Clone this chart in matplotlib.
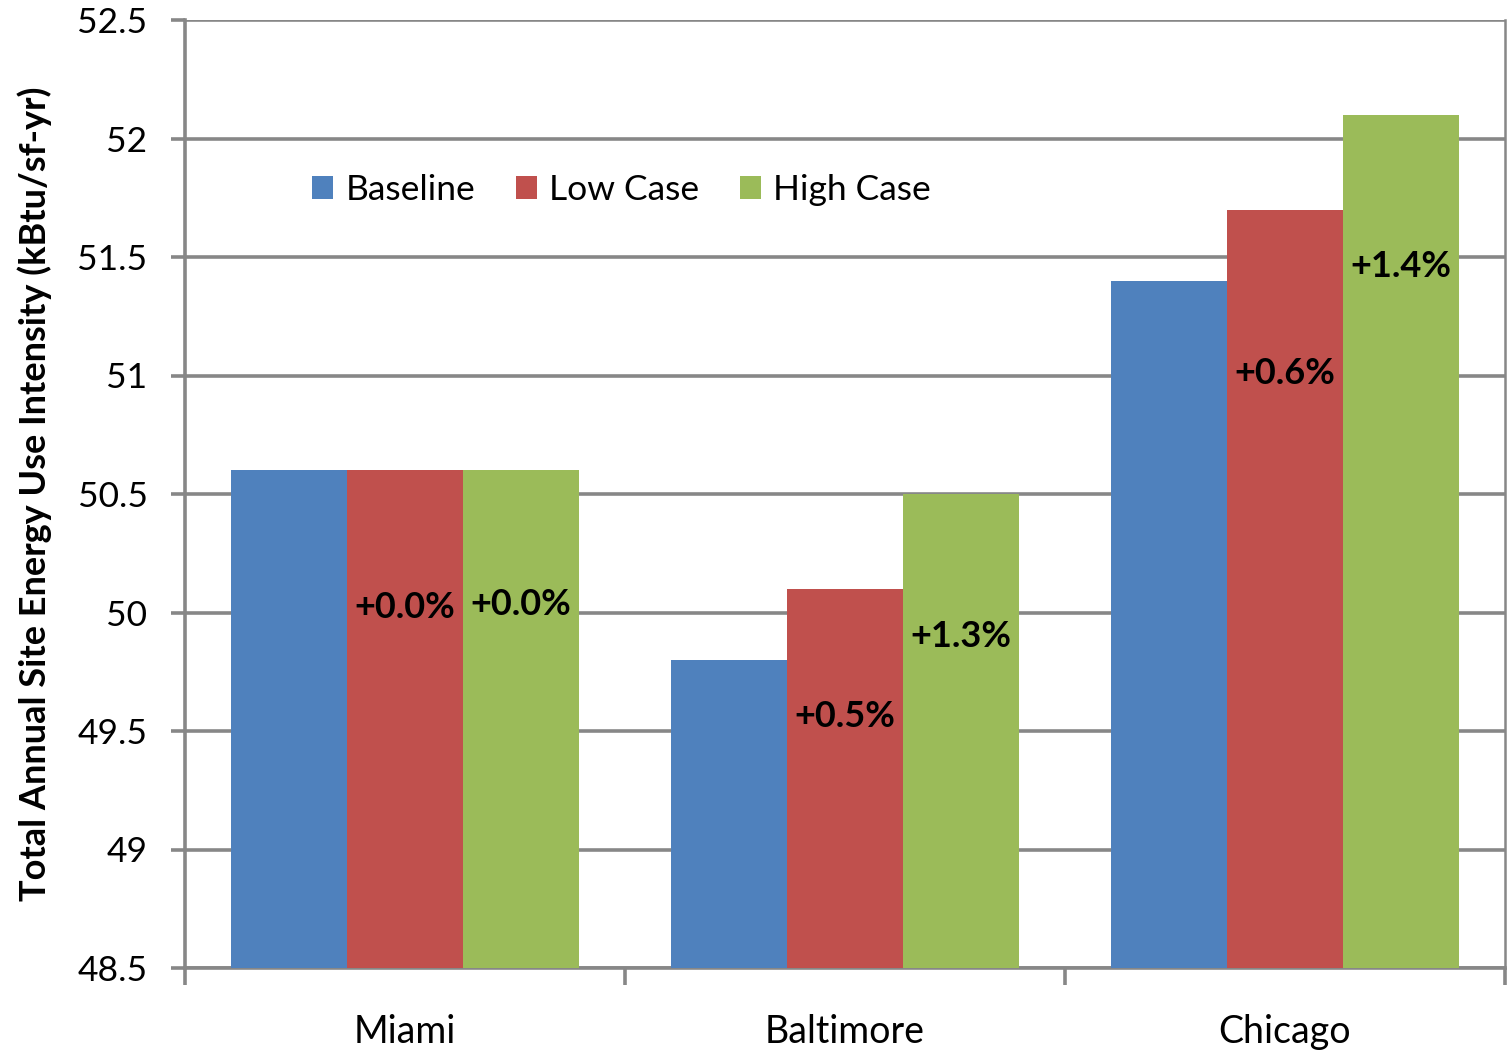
import matplotlib
matplotlib.use("Agg")
import matplotlib.pyplot as plt
import numpy as np

# Site EUI by climate city and case
cities = ["Miami", "Baltimore", "Chicago"]
series = ["Baseline", "Low Case", "High Case"]
baseline = [50.6, 49.8, 51.4]
low_case = [50.6, 50.1, 51.7]
high_case = [50.6, 50.5, 52.1]
low_pct = ["+0.0%", "+0.5%", "+0.6%"]
high_pct = ["+0.0%", "+1.3%", "+1.4%"]
yticks = [48.5, 49, 49.5, 50, 50.5, 51, 51.5, 52, 52.5]

# label drop below the bar top (data units)
low_drop = [0.58, 0.54, 0.69]
high_drop = [0.565, 0.60, 0.64]

colors = ["#4F81BD", "#C0504D", "#9BBB59"]
grid_gray = "#878787"

plt.rcParams["font.family"] = ["Lato", "DejaVu Sans"]

fig = plt.figure(figsize=(15.07, 10.52), dpi=100)
ax = fig.add_axes([185 / 1507, 1 - 968 / 1052, 1320 / 1507, 948 / 1052])

x = np.arange(len(cities))
w = 0.264
ymin = 48.5
for i, (vals, c, name) in enumerate(zip([baseline, low_case, high_case], colors, series)):
    ax.bar(x + (i - 1) * w, np.array(vals) - ymin, w, bottom=ymin, color=c,
           label=name, zorder=3, linewidth=0)

for j in range(len(cities)):
    ax.text(x[j], low_case[j] - low_drop[j], low_pct[j], ha="center", va="center",
            fontsize=26, fontweight="bold", color="black", zorder=4)
    ax.text(x[j] + w, high_case[j] - high_drop[j], high_pct[j], ha="center", va="center",
            fontsize=26, fontweight="bold", color="black", zorder=4)

ax.set_xlim(-0.5, 2.5)
ax.set_ylim(48.5, 52.5)
ax.set_yticks(yticks)
ax.set_yticklabels([f"{v:g}" for v in yticks], fontsize=25.5)
ax.yaxis.grid(True, color=grid_gray, linewidth=2.6, zorder=0)
ax.set_axisbelow(True)

ax.set_xticks(x)
ax.set_xticklabels(cities, fontsize=27)
ax.set_xticks([-0.5, 0.5, 1.5, 2.5], minor=True)
ax.tick_params(axis="x", which="major", length=0, pad=33)
ax.tick_params(axis="x", which="minor", length=12, width=2.6, color=grid_gray, direction="out")
ax.tick_params(axis="y", length=10, width=2.6, color=grid_gray, pad=17)

for s in ["left", "bottom"]:
    ax.spines[s].set_color(grid_gray)
    ax.spines[s].set_linewidth(2.6)
ax.spines["right"].set_color(grid_gray)
ax.spines["right"].set_linewidth(1.8)
ax.spines["top"].set_visible(False)

ax.set_ylabel("Total Annual Site Energy Use Intensity (kBtu/sf-yr)", fontsize=26,
              fontweight="bold", labelpad=18)

leg = ax.legend(loc="center left", bbox_to_anchor=(312 / 1507, 1 - 190 / 1052),
                bbox_transform=fig.transFigure, ncol=3, frameon=False, fontsize=25.5,
                borderpad=0, borderaxespad=0,
                handlelength=0.6, handleheight=0.6, handletextpad=0.34, columnspacing=1.15)

fig.savefig("out.png", dpi=100)
